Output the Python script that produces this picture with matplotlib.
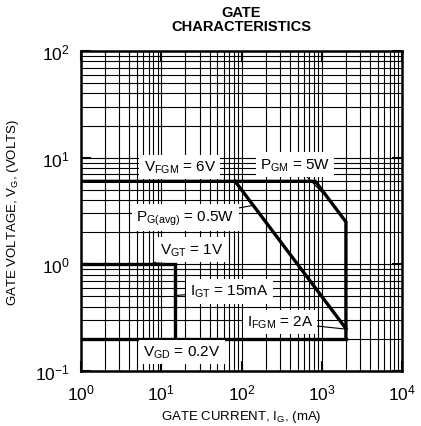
import matplotlib
matplotlib.use("Agg")
import matplotlib.pyplot as plt
import numpy as np

plt.rcParams['font.family'] = ['Liberation Sans', 'DejaVu Sans']
plt.rcParams['mathtext.fontset'] = 'custom'
plt.rcParams['mathtext.rm'] = 'Liberation Sans'
plt.rcParams['mathtext.it'] = 'Liberation Sans'
plt.rcParams['axes.unicode_minus'] = False

# gate ratings
vfgm = 6.0      # V, peak forward gate voltage
pgm = 5.0       # W, peak gate power
pg_avg = 0.5    # W, average gate power
vgt = 1.0       # V, gate trigger voltage
igt = 15.0      # mA, gate trigger current
ifgm = 2000.0   # mA, peak forward gate current
vgd = 0.2       # V, gate non-trigger voltage
i_min = 1.0     # mA, left edge of the chart

xticks = [1e0, 1e1, 1e2, 1e3, 1e4]
yticks = [1e-1, 1e0, 1e1, 1e2]

fig = plt.figure(figsize=(4.21, 4.27), dpi=100)
ax = fig.add_axes([81/421, 55/427, 321/421, 320/427])
ax.set_xscale('log')
ax.set_yscale('log')
ax.set_xlim(1, 1e4)
ax.set_ylim(0.1, 100)

ax.grid(True, which='both', color='black', lw=0.8)
ax.set_axisbelow(True)
for s in ax.spines.values():
    s.set_linewidth(1.8)
ax.set_xticks(xticks)
ax.set_yticks(yticks)
ax.tick_params(which='major', direction='in', length=7, width=1.5,
               top=True, right=True, labelsize=12.5, pad=8)
ax.tick_params(which='minor', length=0)

lw = 2.4
# peak rating boundary
i_knee = pgm / vfgm * 1000
ax.plot([i_min, i_knee, ifgm, ifgm], [vfgm, vfgm, pgm / (ifgm / 1000), vgd],
        color='black', lw=lw, solid_joinstyle='miter')
ax.plot([i_min, ifgm], [vgd, vgd], color='black', lw=lw)
# average power
i_avg = np.array([pg_avg / vfgm * 1000, ifgm])
ax.plot(i_avg, pg_avg / (i_avg / 1000), color='black', lw=lw)
# trigger region
ax.plot([i_min, igt, igt], [vgt, vgt, vgd], color='black', lw=lw,
        solid_joinstyle='miter')

box = dict(facecolor='white', edgecolor='none', pad=3)
lead = dict(arrowstyle='-', lw=0.8, color='black', shrinkA=0, shrinkB=0)
kw = dict(fontsize=11, ha='center', va='center', bbox=box)

ax.text(17, 8.2, r'V$_{\mathrm{FGM}}$ = 6V', **kw)
ax.annotate(r'P$_{\mathrm{GM}}$ = 5W', xy=(1230, pgm / 1.23), xytext=(464, 8.6),
            arrowprops=lead, **kw)
ax.annotate(r'P$_{\mathrm{G(avg)}}$ = 0.5W', xy=(140, pg_avg / 0.14), xytext=(20, 2.75),
            arrowprops=lead, **kw)
ax.annotate(r'V$_{\mathrm{GT}}$ = 1V', xy=(7.2, vgt), xytext=(24.2, 1.38),
            arrowprops=lead, **kw)
ax.annotate(r'I$_{\mathrm{GT}}$ = 15mA', xy=(igt, 0.51), xytext=(70, 0.56),
            arrowprops=lead, **kw)
ax.annotate(r'I$_{\mathrm{FGM}}$ = 2A', xy=(ifgm, 0.247), xytext=(302, 0.287),
            arrowprops=lead, **kw)
ax.text(18.2, 0.151, r'V$_{\mathrm{GD}}$ = 0.2V', **kw)

ax.set_xlabel(r'GATE CURRENT, I$_{\mathrm{G}}$, (mA)', fontsize=9.5, labelpad=4)
ax.set_ylabel(r'GATE VOLTAGE, V$_{\mathrm{G}}$, (VOLTS)', fontsize=9.5, labelpad=10)
ax.set_title('GATE\nCHARACTERISTICS', fontsize=10.5, fontweight='bold',
             linespacing=1.05, pad=15)

fig.savefig('out.png', dpi=100)
